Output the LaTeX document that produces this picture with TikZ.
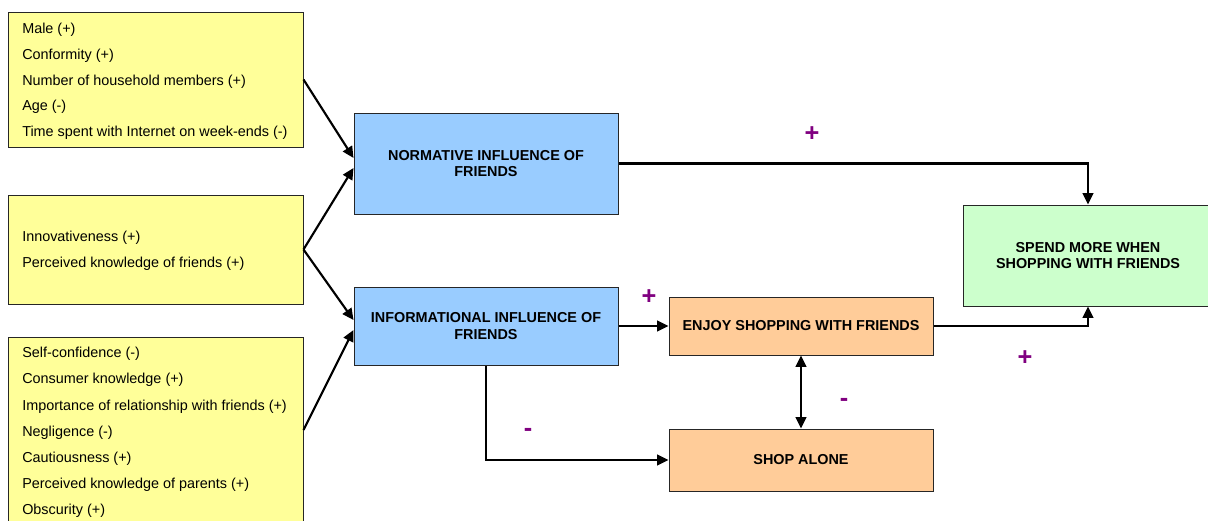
\documentclass[tikz,border=0pt]{standalone}
\usepackage{fontspec}
\setmainfont{Liberation Sans}
\usetikzlibrary{arrows.meta,calc}
\definecolor{factorfill}{HTML}{FFFF99}
\definecolor{influencefill}{HTML}{99CCFF}
\definecolor{behaviourfill}{HTML}{FFCC99}
\definecolor{outcomefill}{HTML}{CCFFCC}
\definecolor{signcolor}{HTML}{800080}
\begin{document}
\begin{tikzpicture}[x=0.75pt,y=-0.75pt,
  box/.style={draw=black!85, line width=0.75pt, inner sep=0pt, align=center,
    font=\fontsize{10.8}{12.5}\selectfont\bfseries},
  size/.style 2 args={minimum width={#1*0.75pt}, minimum height={#2*0.75pt}},
  factor/.style={box, fill=factorfill},
  influence/.style={box, fill=influencefill},
  behaviour/.style={box, fill=behaviourfill},
  outcome/.style={box, fill=outcomefill},
  item/.style={anchor=base west, inner sep=0pt, font=\fontsize{10.8}{12}\selectfont},
  tip/.tip={Triangle[length=8.5pt,width=8pt]},
  link/.style={line width=1.6pt, -tip},
  sign/.style={text=signcolor, font=\fontsize{19}{19}\selectfont\bfseries, inner sep=0pt}]
\useasboundingbox (0,0) rectangle (1208,521);
\clip (0,0) rectangle (1208,521);

% antecedent boxes
\node[factor, size={295}{135}] (f1) at (155.5,79.5) {};
\node[factor, size={295}{109}] (f2) at (155.5,249.5) {};
\node[factor, size={295}{186}] (f3) at (155.5,430) {};

\foreach \t [count=\i] in {Male (+), Conformity (+), Number of household members (+),
    Age (-), Time spent with Internet on week-ends (-)}
  \node[item] (fa\i) at (22,{33.3+(\i-1)*25.85}) {\t};
\foreach \t [count=\i] in {Innovativeness (+), Perceived knowledge of friends (+)}
  \node[item] (fb\i) at (22,{241.7+(\i-1)*25.7}) {\t};
\foreach \t [count=\i] in {Self-confidence (-), Consumer knowledge (+),
    Importance of relationship with friends (+), Negligence (-), Cautiousness (+),
    Perceived knowledge of parents (+), Obscurity (+)}
  \node[item] (fc\i) at (22,{357.7+(\i-1)*26.2}) {\t};

% influence, behaviour and outcome boxes
\node[influence, size={264}{101}] (norm) at (486,163.5) {NORMATIVE INFLUENCE OF\\FRIENDS};
\node[influence, size={264}{78}] (info) at (486,326) {INFORMATIONAL INFLUENCE OF\\FRIENDS};
\node[behaviour, size={264}{58}] (enjoy) at (801,326) {ENJOY SHOPPING WITH FRIENDS};
\node[behaviour, size={264}{62}] (alone) at (801,460) {SHOP ALONE};
\node[outcome, size={250}{101}] (spend) at (1088,255.5) {SPEND MORE WHEN\\SHOPPING WITH FRIENDS};

% connectors
\draw[link] (f1.east) -- ($(norm.west)+(0,-5.5)$);
\draw[link] (f2.east) -- ($(norm.west)+(0,4.5)$);
\draw[link] (f2.east) -- ($(info.west)+(0,-6)$);
\draw[link] (f3.east) -- ($(info.west)+(0,4)$);
\draw[link] (norm.east) -| (spend.north);
\draw[link] (enjoy.east) -| (spend.south);
\draw[link] (info.east) -- (enjoy.west);
\draw[link] (info.south) |- (alone.west);
\draw[link, tip-tip] (enjoy.south) -- (alone.north);

% signs of the effects
\node[sign] (s1) at (812,134) {+};
\node[sign] (s2) at (649,297) {+};
\node[sign] (s3) at (1025,358) {+};
\node[sign] (s4) at (528,432) {-};
\node[sign] (s5) at (844,402) {-};
\end{tikzpicture}
\end{document}
